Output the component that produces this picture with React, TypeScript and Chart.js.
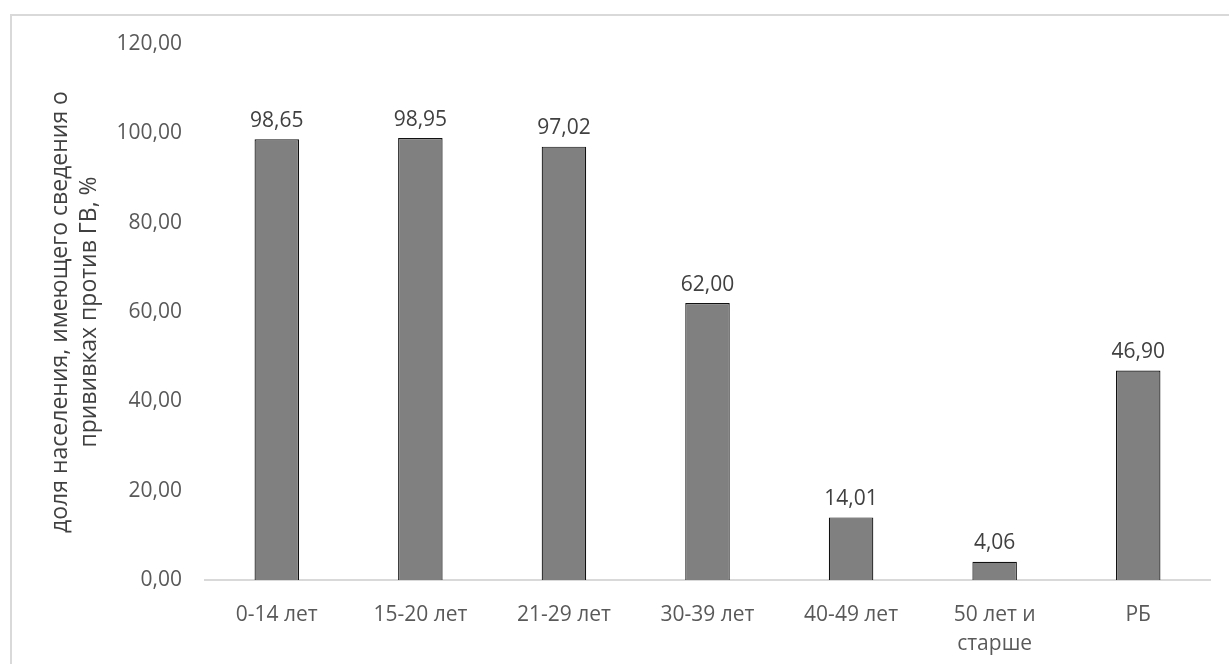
import React, { useEffect, useRef } from 'react';
import { Chart, registerables, Plugin } from 'chart.js';

Chart.register(...registerables);

const categories: (string | string[])[] = [
    '0-14 лет',
    '15-20 лет',
    '21-29 лет',
    '30-39 лет',
    '40-49 лет',
    ['50 лет и', 'старше'],
    'РБ',
];
const shares = [98.65, 98.95, 97.02, 62.0, 14.01, 4.06, 46.9];
const yTitle = ['доля населения, имеющего сведения о', 'прививках против ГВ, %'];

const fmt = (v: number) => v.toFixed(2).replace('.', ',');
const FONT = "'Open Sans', sans-serif";

// values above the bars
const valueLabels: Plugin<'bar'> = {
    id: 'valueLabels',
    afterDatasetsDraw(chart) {
        const { ctx } = chart;
        const meta = chart.getDatasetMeta(0);
        ctx.save();
        ctx.font = `21px ${FONT}`;
        ctx.fillStyle = '#404040';
        ctx.textAlign = 'center';
        ctx.textBaseline = 'bottom';
        meta.data.forEach((bar, i) => {
            ctx.fillText(fmt(shares[i]), bar.x, bar.y - 8);
        });
        ctx.restore();
    },
};

const App: React.FC = () => {
    const chartRef = useRef<HTMLCanvasElement>(null);
    const chartInstance = useRef<Chart | null>(null);

    useEffect(() => {
        if (!chartRef.current) return;
        if (chartInstance.current) chartInstance.current.destroy();

        chartInstance.current = new Chart(chartRef.current, {
            type: 'bar',
            data: {
                labels: categories,
                datasets: [{
                    data: shares,
                    backgroundColor: '#808080',
                    borderColor: '#111111',
                    borderWidth: 1.2,
                    categoryPercentage: 1,
                    barPercentage: 0.31,
                }],
            },
            options: {
                responsive: false,
                animation: false,
                layout: { padding: { left: 10, right: 19, top: 44, bottom: 0 } },
                plugins: {
                    legend: { display: false },
                    tooltip: { enabled: false },
                },
                scales: {
                    x: {
                        grid: { display: false },
                        border: { color: '#d9d9d9', width: 2 },
                        ticks: {
                            color: '#595959',
                            font: { family: FONT, size: 21, lineHeight: 1.4 },
                            padding: 12,
                            maxRotation: 0,
                            autoSkip: false,
                        },
                        afterFit: (scale) => { scale.height = 84; },
                    },
                    y: {
                        min: 0,
                        max: 120,
                        grid: { display: false },
                        border: { display: false },
                        ticks: {
                            stepSize: 20,
                            color: '#595959',
                            font: { family: FONT, size: 21 },
                            padding: 15,
                            callback: (v) => fmt(Number(v)),
                        },
                        title: {
                            display: true,
                            text: yTitle,
                            color: '#404040',
                            font: { family: FONT, size: 23, lineHeight: 1.25 },
                            padding: { top: 36, bottom: 10 },
                        },
                        afterFit: (scale) => { scale.width = 195; },
                    },
                },
            },
            plugins: [valueLabels],
        });

        return () => {
            if (chartInstance.current) {
                chartInstance.current.destroy();
                chartInstance.current = null;
            }
        };
    }, []);

    return (
        <div style={{ position: 'absolute', left: 0, top: 0, width: 1229, height: 664, background: '#fff', overflow: 'hidden' }}>
            <div style={{ position: 'absolute', left: 10, top: 14, width: 1300, height: 700, borderTop: '2px solid #d9d9d9', borderLeft: '2px solid #d9d9d9' }} />
            <canvas ref={chartRef} width={1229} height={664} style={{ position: 'absolute', left: 0, top: 0 }} />
        </div>
    );
};

export default App;
